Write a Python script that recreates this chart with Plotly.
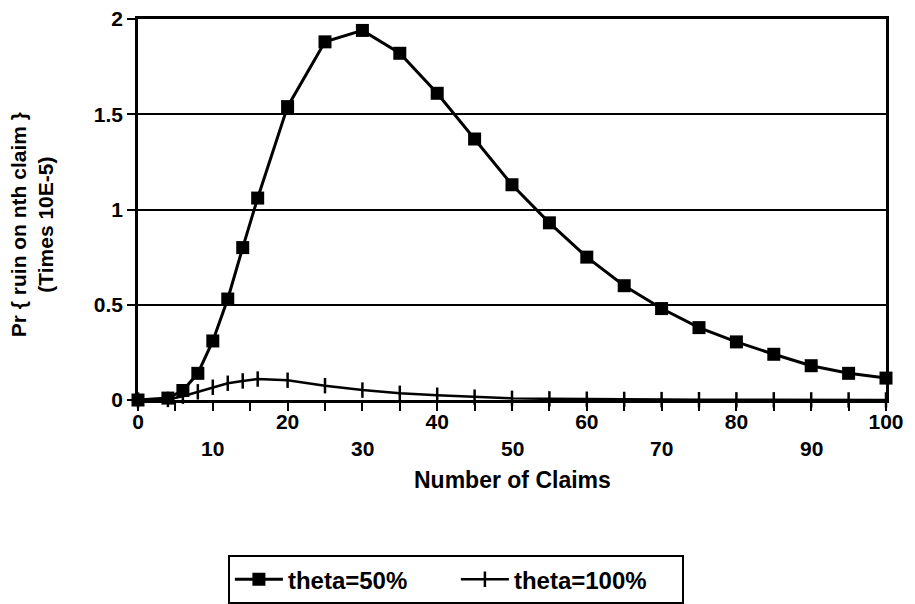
import plotly.graph_objects as go

claims = [0, 4, 6, 8, 10, 12, 14, 16, 20, 25, 30, 35, 40, 45, 50, 55, 60, 65, 70, 75, 80, 85, 90, 95, 100]
theta_50 = [0, 0.01, 0.05, 0.14, 0.31, 0.53, 0.80, 1.06, 1.54, 1.88, 1.94, 1.82, 1.61, 1.37, 1.13,
            0.93, 0.75, 0.60, 0.48, 0.38, 0.305, 0.24, 0.18, 0.14, 0.115]
theta_100 = [0, 0.003, 0.02, 0.043, 0.067, 0.088, 0.10, 0.11, 0.104, 0.075, 0.052, 0.035, 0.025,
             0.015, 0.009, 0.006, 0.004, 0.003, 0.002, 0.0015, 0.001, 0.0008, 0.0005, 0.0004, 0.0003]
upper_ticks = [0, 20, 40, 60, 80, 100]
lower_ticks = [10, 30, 50, 70, 90]
y_ticks = [0, 0.5, 1, 1.5, 2]

FONT = "Liberation Sans"
BOLD = dict(family=FONT, color="black", weight="bold")

fig = go.Figure()
fig.add_trace(go.Scatter(
    x=claims, y=theta_50, name="theta=50%", mode="lines+markers",
    line=dict(color="black", width=3),
    marker=dict(symbol="square", size=13, color="black"),
    cliponaxis=False,
))
fig.add_trace(go.Scatter(
    x=claims, y=theta_100, name="theta=100%", mode="lines+markers",
    line=dict(color="black", width=2.5),
    marker=dict(symbol="line-ns", size=11, line=dict(color="black", width=2.5)),
    cliponaxis=False,
))

for v in lower_ticks:
    fig.add_annotation(x=v, y=0, xref="x", yref="y", text=str(v), showarrow=False,
                       yshift=-48, font=dict(size=21, **BOLD))

fig.add_annotation(x=0.5, y=0, xref="paper", yref="paper", text="Number of Claims",
                   showarrow=False, yanchor="middle", yshift=-80, font=dict(size=23, **BOLD))
fig.add_annotation(x=-0.1424, y=0.46, xref="paper", yref="paper",
                   text="Pr { ruin on nth claim }<br>(Times 10E-5)", textangle=-90,
                   showarrow=False, xanchor="center", yanchor="middle", font=dict(size=21, **BOLD))

fig.update_layout(
    width=915, height=604,
    margin=dict(l=130, r=37, t=11, b=212, autoexpand=False),
    paper_bgcolor="white", plot_bgcolor="white",
    font=dict(size=21, **BOLD),
    showlegend=True,
    legend=dict(orientation="h", x=0.425, y=0.094, xref="paper", yref="container",
                xanchor="center", yanchor="top",
                bordercolor="black", borderwidth=2, font=dict(size=24),
                itemwidth=48, entrywidth=163, entrywidthmode="pixels", traceorder="normal"),
    xaxis=dict(
        range=[0, 100], tickvals=upper_ticks, ticktext=[str(v) for v in upper_ticks],
        ticks="outside", ticklen=8, tickwidth=2, tickcolor="black", ticklabelstandoff=-7,
        ticklabeloverflow="allow",
        minor=dict(dtick=5, ticks="outside", ticklen=8, tickwidth=2, tickcolor="black", showgrid=False),
        showline=True, linecolor="black", linewidth=2.5, mirror=True,
        showgrid=False, zeroline=False, automargin=False,
    ),
    yaxis=dict(
        range=[0, 2], tickvals=y_ticks, ticklabeloverflow="allow",
        ticks="outside", ticklen=8, tickwidth=2, tickcolor="black",
        showline=True, linecolor="black", linewidth=2.5, mirror=True,
        showgrid=True, gridcolor="black", gridwidth=1.8, zeroline=False, automargin=False,
    ),
)

fig.write_html("out.html")
